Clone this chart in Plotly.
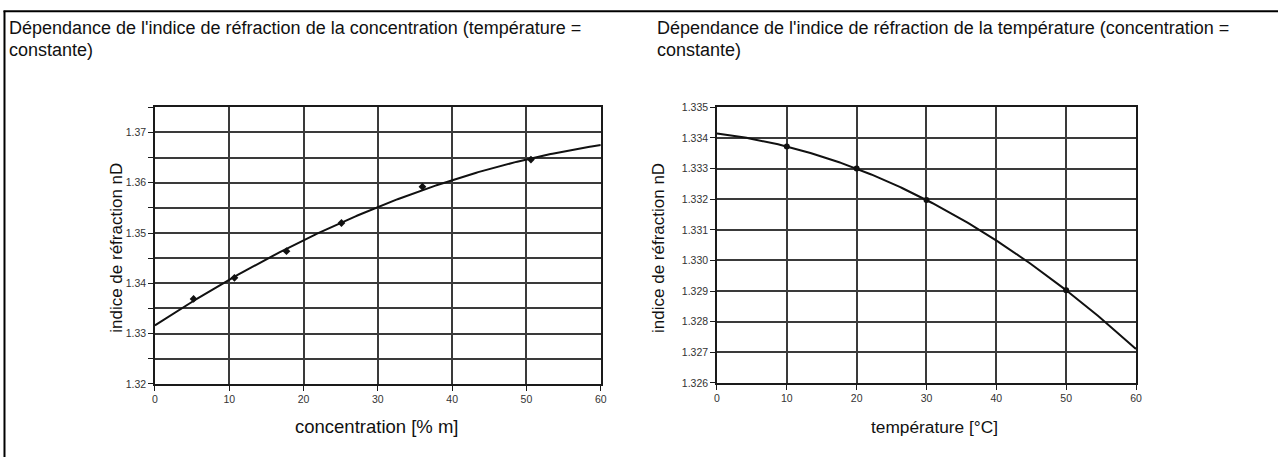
import numpy as np
import plotly.graph_objects as go

# ---- data ----
conc_x = [5.2, 10.7, 17.7, 25.1, 36.0, 50.6]
conc_n = [1.3369, 1.3411, 1.3464, 1.3520, 1.3592, 1.3646]

temp_x = [10, 20, 30, 50]
temp_n = [1.33372, 1.33300, 1.33197, 1.32903]

title_left = ["Dépendance de l'indice de réfraction de la concentration (température =", "constante)"]
title_right = ["Dépendance de l'indice de réfraction de la température (concentration =", "constante)"]
xlabel_left = "concentration [% m]"
xlabel_right = "température [°C]"
ylabel = "indice de réfraction nD"

# polynomial (2nd order) trendlines fitted to the measured points
cfit = np.polyfit(conc_x, conc_n, 2)
tfit = np.polyfit(temp_x, temp_n, 2)
xs = np.linspace(0, 60, 241)

W, H = 1284, 463
def px(x):
    return x / W
def py(y):
    return 1 - y / H

FONT = "Liberation Sans, Arial, sans-serif"
GRID = "#3a3a3a"
AX = "#1a1a1a"
TXT = "#111111"

fig = go.Figure()
fig.add_trace(go.Scatter(x=xs, y=np.polyval(cfit, xs), mode="lines",
                         line=dict(color="#111111", width=2), xaxis="x", yaxis="y",
                         showlegend=False, hoverinfo="skip"))
fig.add_trace(go.Scatter(x=conc_x, y=conc_n, mode="markers",
                         marker=dict(symbol="diamond", size=6, color="#111111"),
                         xaxis="x", yaxis="y", showlegend=False))
fig.add_trace(go.Scatter(x=xs, y=np.polyval(tfit, xs), mode="lines",
                         line=dict(color="#111111", width=2), xaxis="x2", yaxis="y2",
                         showlegend=False, hoverinfo="skip"))
fig.add_trace(go.Scatter(x=temp_x, y=temp_n, mode="markers",
                         marker=dict(symbol="circle", size=6, color="#111111"),
                         xaxis="x2", yaxis="y2", showlegend=False))

common_x = dict(range=[0, 60], dtick=10, tick0=0, showgrid=True, gridcolor=GRID, gridwidth=1.5,
                showline=True, linecolor=AX, linewidth=1.5, mirror=True, ticks="outside",
                ticklen=5, tickcolor=AX, zeroline=False,
                tickfont=dict(family=FONT, size=10.5, color="#333333"))
common_y = dict(showgrid=True, gridcolor=GRID, gridwidth=1.5,
                showline=True, linecolor=AX, linewidth=1.5, mirror=True, ticks="outside",
                ticklen=5, tickcolor=AX, zeroline=False,
                tickfont=dict(family=FONT, size=10.5, color="#333333"))

def ann(text, x, y, size, angle=0, xanchor="center", yanchor="middle"):
    return dict(text=text, x=px(x), y=py(y), xref="paper", yref="paper",
                xanchor=xanchor, yanchor=yanchor, showarrow=False, textangle=angle,
                borderpad=0, font=dict(family=FONT, size=size, color=TXT))

annotations = [
    ann(title_left[0], 5, 34, 18, xanchor="left", yanchor="bottom"),
    ann(title_left[1], 5, 34, 18, xanchor="left", yanchor="top"),
    ann(title_right[0], 658, 34, 18, xanchor="left", yanchor="bottom"),
    ann(title_right[1], 658, 34, 18, xanchor="left", yanchor="top"),
    ann(xlabel_left, 377, 432, 18.5),
    ann(xlabel_right, 938, 432, 17.3),
    ann(ylabel, 114, 248, 17, angle=-90),
    ann(ylabel, 660, 248, 17, angle=-90),
]

fig.update_layout(
    width=W, height=H, margin=dict(l=0, r=0, t=0, b=0),
    paper_bgcolor="white", plot_bgcolor="white",
    xaxis=dict(domain=[px(153), px(602)], anchor="y", **common_x),
    yaxis=dict(domain=[py(388), py(104)], anchor="x", range=[1.32, 1.375], dtick=0.01,
               tick0=1.32, tickformat=".2f",
               minor=dict(dtick=0.005, tick0=1.32, showgrid=True, gridcolor=GRID, gridwidth=1.5,
                          ticks="outside", ticklen=5, tickcolor=AX),
               **common_y),
    xaxis2=dict(domain=[px(719), px(1141)], anchor="y2", **common_x),
    yaxis2=dict(domain=[py(387), py(104)], anchor="x2", range=[1.326, 1.335], dtick=0.001,
                tick0=1.326, tickformat=".3f", **common_y),
    annotations=annotations,
    shapes=[
        dict(type="line", xref="paper", yref="paper", x0=px(1.5), x1=px(1.5), y0=0, y1=py(5),
             line=dict(color="black", width=2)),
        dict(type="line", xref="paper", yref="paper", x0=px(0.5), x1=1, y0=py(5.5), y1=py(5.5),
             line=dict(color="black", width=2)),
    ],
)

fig.write_html("out.html", config={"displayModeBar": False},
               post_script="document.body.style.margin='0px';")
